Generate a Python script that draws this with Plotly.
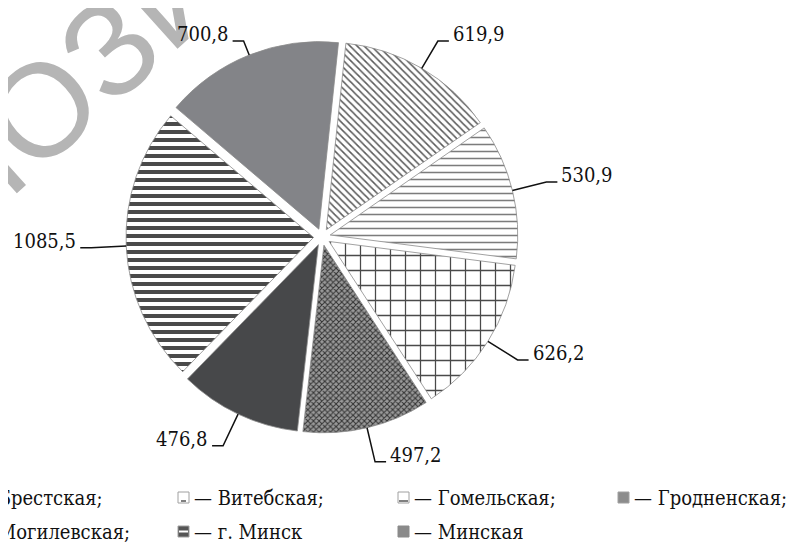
import math
import plotly.graph_objects as go

# ---------------- data ----------------
regions = ["Брестская", "Витебская", "Гомельская", "Гродненская",
           "Могилевская", "г. Минск", "Минская"]
values = [619.9, 530.9, 626.2, 497.2, 476.8, 1085.5, 700.8]
value_labels = ["619,9", "530,9", "626,2", "497,2", "476,8", "1085,5", "700,8"]
legend_texts = ["— Брестская;", "— Витебская;", "— Гомельская;", "— Гродненская;",
                "— Могилевская;", "— г. Минск", "— Минская"]

# ---------------- styles ----------------
fill_colors = ["#ffffff", "#ffffff", "#ffffff", "#9a9a9a", "#47484a", "#ffffff", "#838488"]
pat_shapes = ["\\", "-", "+", "x", "", "-", ""]
pat_fg = ["#5a5a5a", "#7c7c7c", "#4a4a4a", "#343434", "#47484a", "#4a4a4a", "#838488"]
pat_size = [5, 7, 15, 4, 8, 8, 8]
pat_solid = [0.3, 0.22, 0.16, 0.45, 0.3, 0.5, 0.3]

W, H = 795, 543
CX, CY, R = 314, 229, 196      # pie centre / outer radius in pixels
PULL = 0.045
ROT = 6
FONT = "DejaVu Serif Condensed, DejaVu Serif"
FSIZE = 20


def px(x):
    return x / W


def py(y):
    return 1 - y / H


fig = go.Figure()
fig.add_trace(go.Pie(
    labels=regions, values=values, sort=False, direction="clockwise",
    rotation=ROT, pull=[PULL] * len(values), textinfo="none",
    hoverinfo="label+value",
    marker=dict(colors=fill_colors,
                line=dict(color="#8a8a8a", width=0.8),
                pattern=dict(shape=pat_shapes, fgcolor=pat_fg, bgcolor=fill_colors,
                             size=pat_size, solidity=pat_solid, fillmode="replace")),
    domain=dict(x=[px(CX - R), px(CX + R)], y=[py(CY + R), py(CY - R)]),
    showlegend=False,
))

shapes = []
annotations = []

# watermark
annotations.append(dict(
    text="РЕПОЗИТОРИЙ", x=px(166), y=py(-18), xref="paper", yref="paper",
    xanchor="center", yanchor="middle", showarrow=False, textangle=-42,
    font=dict(family="Liberation Sans", size=132, color="#b5b5b5"),
))

# value labels with leader lines, positioned from slice mid-angles
total = sum(values)
cum = 0.0
for v, lab in zip(values, value_labels):
    mid = math.radians(ROT + (cum + v / 2) / total * 360)
    cum += v
    sx, sy = math.sin(mid), -math.cos(mid)
    ex, ey = CX + R * sx, CY + R * sy
    t = 231
    if CY + t * sy < 33:
        t = (CY - 33) / -sy
    kx, ky = CX + t * sx, CY + t * sy
    side = 1 if sx >= 0 else -1
    tx = kx + side * 11
    shapes.append(dict(type="path", xref="paper", yref="paper",
                       path=f"M {px(ex)},{py(ey)} L {px(kx)},{py(ky)} L {px(tx)},{py(ky)}",
                       line=dict(color="#111111", width=1.5)))
    annotations.append(dict(
        text=lab, x=px(tx + side * 2), y=py(ky - 7), xref="paper", yref="paper",
        xanchor="left" if side > 0 else "right", yanchor="middle", showarrow=False,
        font=dict(family=FONT, size=FSIZE, color="#111111"),
    ))

# legend drawn as text + small swatches
col_x = [-50, 170, 390, 610]
row_y = [490, 524]
for i, tx_ in enumerate(legend_texts):
    xi = col_x[i % 4]
    yc = row_y[i // 4]
    annotations.append(dict(
        text=tx_, x=px(xi + 14), y=py(yc), xref="paper", yref="paper",
        xanchor="left", yanchor="middle", showarrow=False,
        font=dict(family=FONT, size=FSIZE, color="#111111"),
    ))
    box = dict(type="rect", xref="paper", yref="paper",
               x0=px(xi), x1=px(xi + 11), y0=py(yc + 5), y1=py(yc - 6),
               line=dict(color="#a0a0a0", width=1))
    name = regions[i]
    if name in ("Витебская", "Гомельская", "Брестская"):
        box["fillcolor"] = "#ffffff"
        shapes.append(box)
        shapes.append(dict(type="rect", xref="paper", yref="paper",
                           x0=px(xi + (3 if name == "Витебская" else 1)),
                           x1=px(xi + (8 if name == "Витебская" else 10)),
                           y0=py(yc + 4), y1=py(yc + 2),
                           line=dict(width=0), fillcolor="#808080"))
    elif name == "Гродненская":
        box["fillcolor"] = "#8c8c8c"
        shapes.append(box)
    elif name == "Могилевская":
        box["fillcolor"] = "#47484a"
        shapes.append(box)
    elif name == "г. Минск":
        box["fillcolor"] = "#555555"
        shapes.append(box)
        shapes.append(dict(type="rect", xref="paper", yref="paper",
                           x0=px(xi + 1), x1=px(xi + 10), y0=py(yc + 0.5), y1=py(yc - 1.5),
                           line=dict(width=0), fillcolor="#ffffff"))
    else:
        box["fillcolor"] = "#8a8a8a"
        box["line"] = dict(color="#8a8a8a", width=1)
        shapes.append(box)

fig.update_layout(
    width=W, height=H, margin=dict(l=0, r=0, t=0, b=0),
    paper_bgcolor="#ffffff", plot_bgcolor="#ffffff",
    shapes=shapes, annotations=annotations,
)

fig.write_html("out.html")
